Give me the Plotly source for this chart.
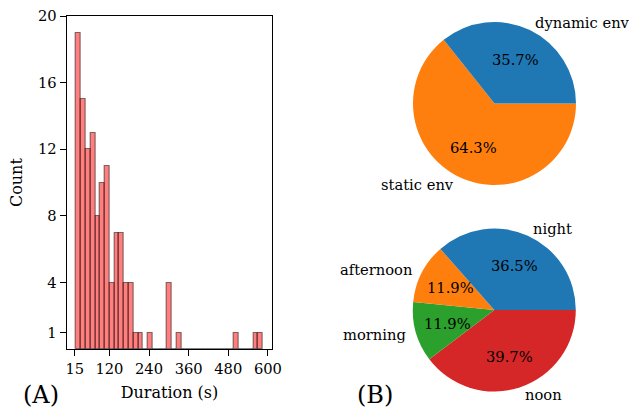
import math
import plotly.graph_objects as go

# ---------------- data ----------------
bin_start = 19.0
bin_width = 14.5
counts = [19, 15, 12, 13, 8, 10, 11, 4, 7, 7, 4, 4, 1, 1, 0, 1, 0, 0, 0, 4,
          0, 1, 0, 0, 0, 0, 0, 0, 0, 0, 0, 0, 0, 1, 0, 0, 0, 1, 1]
x_ticks = [15, 120, 240, 360, 480, 600]
y_ticks = [1, 4, 8, 12, 16, 20]

env_labels = ["dynamic env", "static env"]
env_values = [45, 81]
time_labels = ["night", "afternoon", "morning", "noon"]
time_values = [46, 15, 15, 50]

tab10 = ["#1f77b4", "#ff7f0e", "#2ca02c", "#d62728"]

W, H = 629, 409
FONT = "DejaVu Serif"
FS = 14.7
FS_TITLE = 16

xs = [bin_start + bin_width * (i + 0.5) for i in range(len(counts))]

fig = go.Figure()
fig.add_trace(go.Bar(
    x=xs, y=counts, width=[bin_width] * len(counts),
    marker=dict(color="rgba(255,0,0,0.5)", line=dict(color="rgba(0,0,0,0.5)", width=1.1)),
    xaxis="x", yaxis="y", showlegend=False, hoverinfo="x+y",
))

def pie_domain(cx, cy, r):
    return dict(x=[(cx - r) / W, (cx + r) / W], y=[1 - (cy + r) / H, 1 - (cy - r) / H])

def pie_annots(values, labels, cx, cy, r):
    total = sum(values)
    ann = []
    start = 0.0
    for v, lab in zip(values, labels):
        span = 360.0 * v / total
        mid = math.radians(start + span / 2)
        start += span
        lx = cx + 1.1 * r * math.cos(mid)
        ly = cy - 1.1 * r * math.sin(mid)
        ann.append(dict(x=lx / W, y=1 - ly / H, xref="paper", yref="paper",
                        text=lab, showarrow=False,
                        xanchor="left" if math.cos(mid) > 0 else "right",
                        yanchor="middle", font=dict(family=FONT, size=FS, color="black")))
        px = cx + 0.6 * r * math.cos(mid)
        py = cy - 0.6 * r * math.sin(mid)
        ann.append(dict(x=px / W, y=1 - py / H, xref="paper", yref="paper",
                        text=f"{100.0 * v / total:.1f}%", showarrow=False,
                        xanchor="center", yanchor="middle",
                        font=dict(family=FONT, size=FS, color="black")))
    return ann

pies = [
    (env_values, env_labels, 494.5, 103.5, 81.5),
    (time_values, time_labels, 494.3, 310.0, 81.5),
]
annotations = []
for vals, labs, cx, cy, r in pies:
    n = len(vals)
    # matplotlib draws counterclockwise from 3 o'clock; same layout = reversed order, clockwise
    fig.add_trace(go.Pie(
        values=vals[::-1], labels=labs[::-1], sort=False, direction="clockwise",
        rotation=90, textinfo="none", hoverinfo="label+percent",
        marker=dict(colors=tab10[:n][::-1], line=dict(width=0)),
        domain=pie_domain(cx, cy, r), showlegend=False,
    ))
    annotations += pie_annots(vals, labs, cx, cy, r)

annotations.append(dict(x=41 / W, y=1 - 395 / H, xref="paper", yref="paper", text="(A)",
                        showarrow=False, xanchor="center", yanchor="middle",
                        font=dict(family=FONT, size=24, color="black")))
annotations.append(dict(x=375 / W, y=1 - 395 / H, xref="paper", yref="paper", text="(B)",
                        showarrow=False, xanchor="center", yanchor="middle",
                        font=dict(family=FONT, size=24, color="black")))

axis_common = dict(showline=True, linecolor="black", linewidth=1.1, mirror=True,
                   ticks="outside", ticklen=6, tickwidth=1.1, tickcolor="black",
                   showgrid=False, zeroline=False, automargin=False,
                   tickfont=dict(family=FONT, size=FS, color="black"))

fig.update_layout(
    width=W, height=H, autosize=False,
    margin=dict(l=0, r=0, t=0, b=0, autoexpand=False),
    paper_bgcolor="white", plot_bgcolor="white",
    bargap=0,
    xaxis=dict(domain=[66.7 / W, 272.3 / W], range=[-9.3, 613.3],
               tickvals=x_ticks, ticktext=[str(t) for t in x_ticks],
               title=dict(text="Duration (s)", font=dict(family=FONT, size=FS_TITLE, color="black"), standoff=10),
               anchor="y", **axis_common),
    yaxis=dict(domain=[1 - 349.3 / H, 1 - 16 / H], range=[0, 20],
               tickvals=y_ticks, ticktext=[str(t) for t in y_ticks],
               title=dict(text="Count", font=dict(family=FONT, size=FS_TITLE, color="black"), standoff=11),
               anchor="x", **axis_common),
    annotations=annotations,
    font=dict(family=FONT, size=FS, color="black"),
)

fig.write_html("out.html",
               config={"displayModeBar": False, "responsive": False},
               post_script="document.body.style.margin='0';")
